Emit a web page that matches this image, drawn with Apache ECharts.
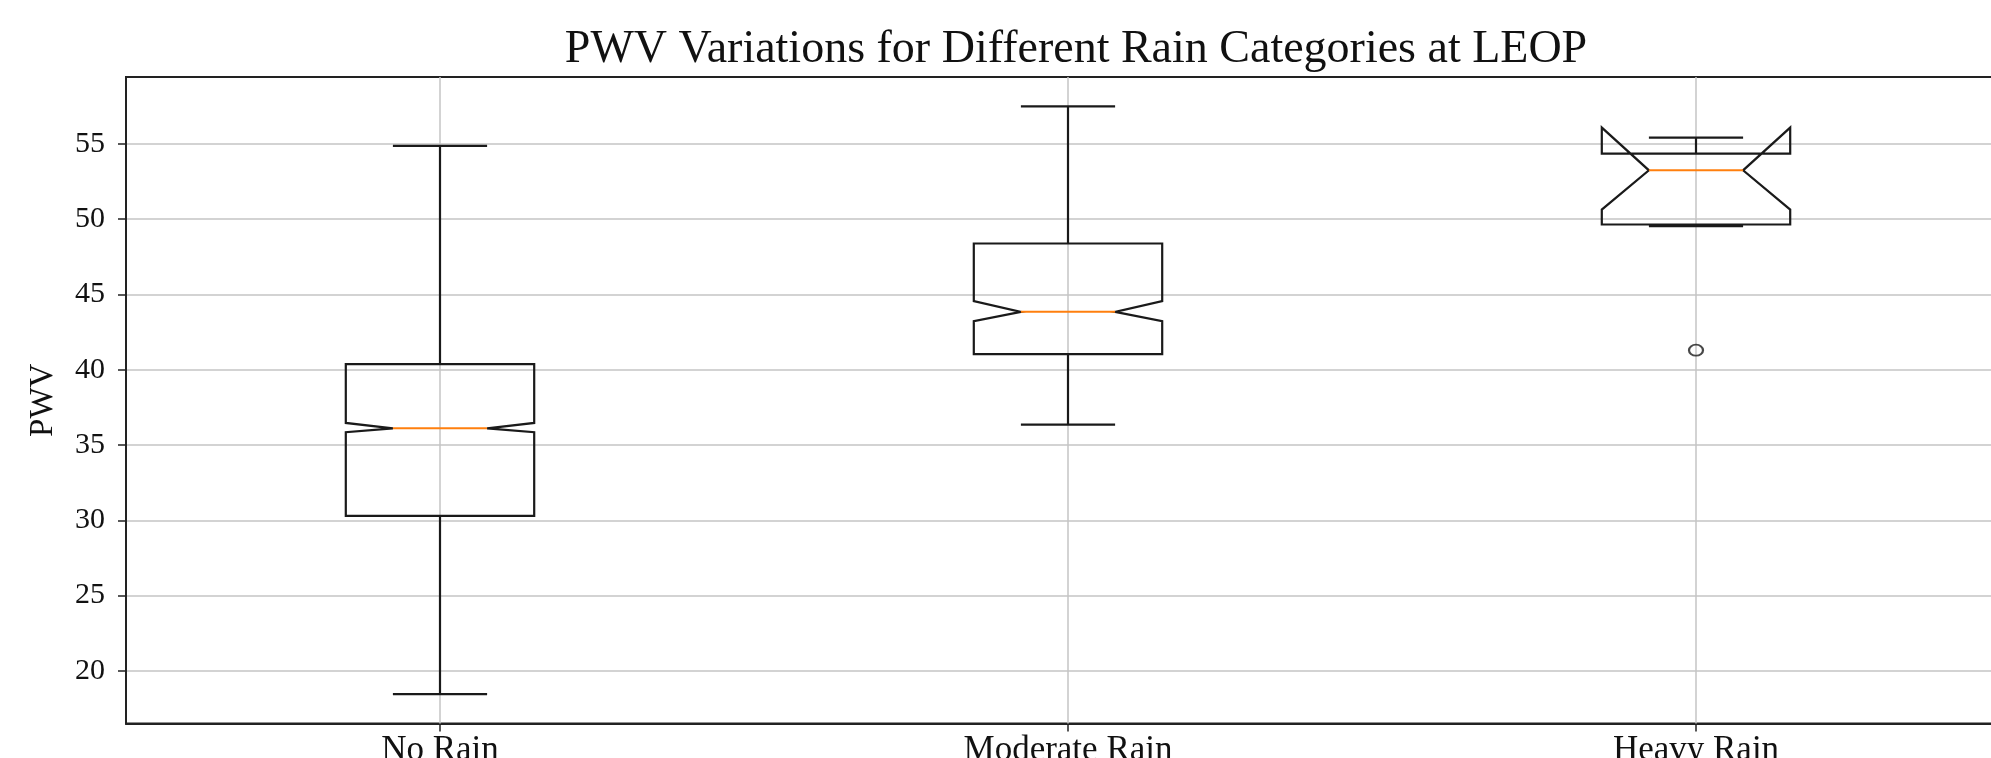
<!DOCTYPE html>
<html>
<head>
<meta charset="utf-8">
<script src="https://cdn.jsdelivr.net/npm/echarts@6/dist/echarts.min.js"></script>
<style>
  html, body { margin: 0; padding: 0; background: #fff; }
  #chart { width: 1991px; height: 758px; }
</style>
</head>
<body>
<div id="chart"></div>
<script>
// ---- data ----
const categories   = ['No Rain', 'Moderate Rain', 'Heavy Rain'];
const whiskerLow   = [18.45, 36.35, 49.54];
const q1           = [30.30, 41.04, 49.65];
const notchLow     = [35.85, 43.23, 50.64];
const median       = [36.11, 43.85, 53.25];
const notchHigh    = [36.47, 44.56, 56.09];
const q3           = [40.37, 48.39, 54.36];
const whiskerHigh  = [54.87, 57.50, 55.42];
const outlierCats  = ['Heavy Rain'];
const outlierVals  = [41.30];
const yTicks       = [20, 25, 30, 35, 40, 45, 50, 55];
const yMin = 16.50, yMax = 59.45;

const BOX_WIDTH = 0.3;
const FONT = '"Liberation Serif", "DejaVu Serif", serif';

const boxData = categories.map((c, i) => [i, whiskerLow[i], q1[i], notchLow[i], median[i], notchHigh[i], q3[i], whiskerHigh[i]]);
const outlierData = outlierCats.map((c, i) => [categories.indexOf(c), outlierVals[i]]);

function renderBox(params, api) {
  const x = api.value(0);
  const wl = api.value(1), b1 = api.value(2), nl = api.value(3), md = api.value(4),
        nh = api.value(5), b3 = api.value(6), wh = api.value(7);
  const cx = api.coord([x, md])[0];
  const band = api.size([1, 0])[0];
  const half = band * BOX_WIDTH / 2;
  const y = v => api.coord([x, v])[1];
  const L = cx - half, R = cx + half, iL = cx - half / 2, iR = cx + half / 2;
  const stroke = { fill: 'none', stroke: '#1a1a1a', lineWidth: 2.2 };
  const pts = [[L, y(b1)], [L, y(nl)], [iL, y(md)], [L, y(nh)], [L, y(b3)],
               [R, y(b3)], [R, y(nh)], [iR, y(md)], [R, y(nl)], [R, y(b1)]];
  return {
    type: 'group',
    children: [
      { type: 'line', shape: { x1: cx, y1: y(b1), x2: cx, y2: y(wl) }, style: stroke },
      { type: 'line', shape: { x1: cx, y1: y(b3), x2: cx, y2: y(wh) }, style: stroke },
      { type: 'line', shape: { x1: iL, y1: y(wl), x2: iR, y2: y(wl) }, style: stroke },
      { type: 'line', shape: { x1: iL, y1: y(wh), x2: iR, y2: y(wh) }, style: stroke },
      { type: 'polygon', shape: { points: pts }, style: stroke },
      { type: 'line', shape: { x1: iL, y1: y(md), x2: iR, y2: y(md) }, style: { stroke: '#ff7f0e', lineWidth: 2 } }
    ]
  };
}

const chart = echarts.init(document.getElementById('chart'), null, { renderer: 'canvas' });
chart.setOption({
  backgroundColor: '#fff',
  animation: false,
  title: {
    text: 'PWV Variations for Different Rain Categories at LEOP',
    left: 1076,
    textAlign: 'center',
    top: 27,
    padding: 0,
    textStyle: { fontFamily: FONT, fontSize: 46, fontWeight: 'normal', color: '#111' }
  },
  grid: {
    left: 126, width: 1884, top: 77, bottom: 34.5,
    outerBoundsMode: 'none',
    containLabel: false,
    show: true, borderColor: '#222', borderWidth: 2, backgroundColor: 'transparent'
  },
  xAxis: {
    type: 'category',
    data: categories,
    boundaryGap: true,
    axisLine: { show: true, lineStyle: { color: '#222', width: 2 } },
    axisTick: { show: true, alignWithLabel: true, length: 8, lineStyle: { color: '#222', width: 1.5 } },
    axisLabel: { margin: 10, fontFamily: FONT, fontSize: 35, color: '#111' },
    splitLine: { show: false }
  },
  yAxis: {
    type: 'value',
    min: yMin, max: yMax,
    name: 'PWV',
    nameLocation: 'middle',
    nameRotate: 90,
    nameGap: 66,
    nameTextStyle: { fontFamily: FONT, fontSize: 33, color: '#111' },
    axisLine: { show: true, lineStyle: { color: '#222', width: 2 } },
    axisTick: { show: true, length: 8, customValues: yTicks, lineStyle: { color: '#222', width: 1.5 } },
    axisLabel: { margin: 21, customValues: yTicks, fontFamily: FONT, fontSize: 30, color: '#111' },
    splitLine: { show: true, lineStyle: { color: '#c4c4c4', width: 1.5 } }
  },
  series: [
    {
      type: 'scatter',
      z: 1,
      data: outlierData,
      symbol: 'circle',
      symbolSize: [14, 11],
      itemStyle: { color: 'rgba(0,0,0,0)', borderColor: '#1a1a1a', borderWidth: 2 },
      markLine: {
        z: 1,
        silent: true,
        symbol: 'none',
        label: { show: false },
        lineStyle: { color: '#c4c4c4', width: 1.5, type: 'solid' },
        data: categories.map(c => ({ xAxis: c }))
      }
    },
    {
      type: 'custom',
      z: 10,
      renderItem: renderBox,
      encode: { x: 0, y: [1, 2, 3, 4, 5, 6, 7] },
      data: boxData
    }
  ]
});
</script>
</body>
</html>
